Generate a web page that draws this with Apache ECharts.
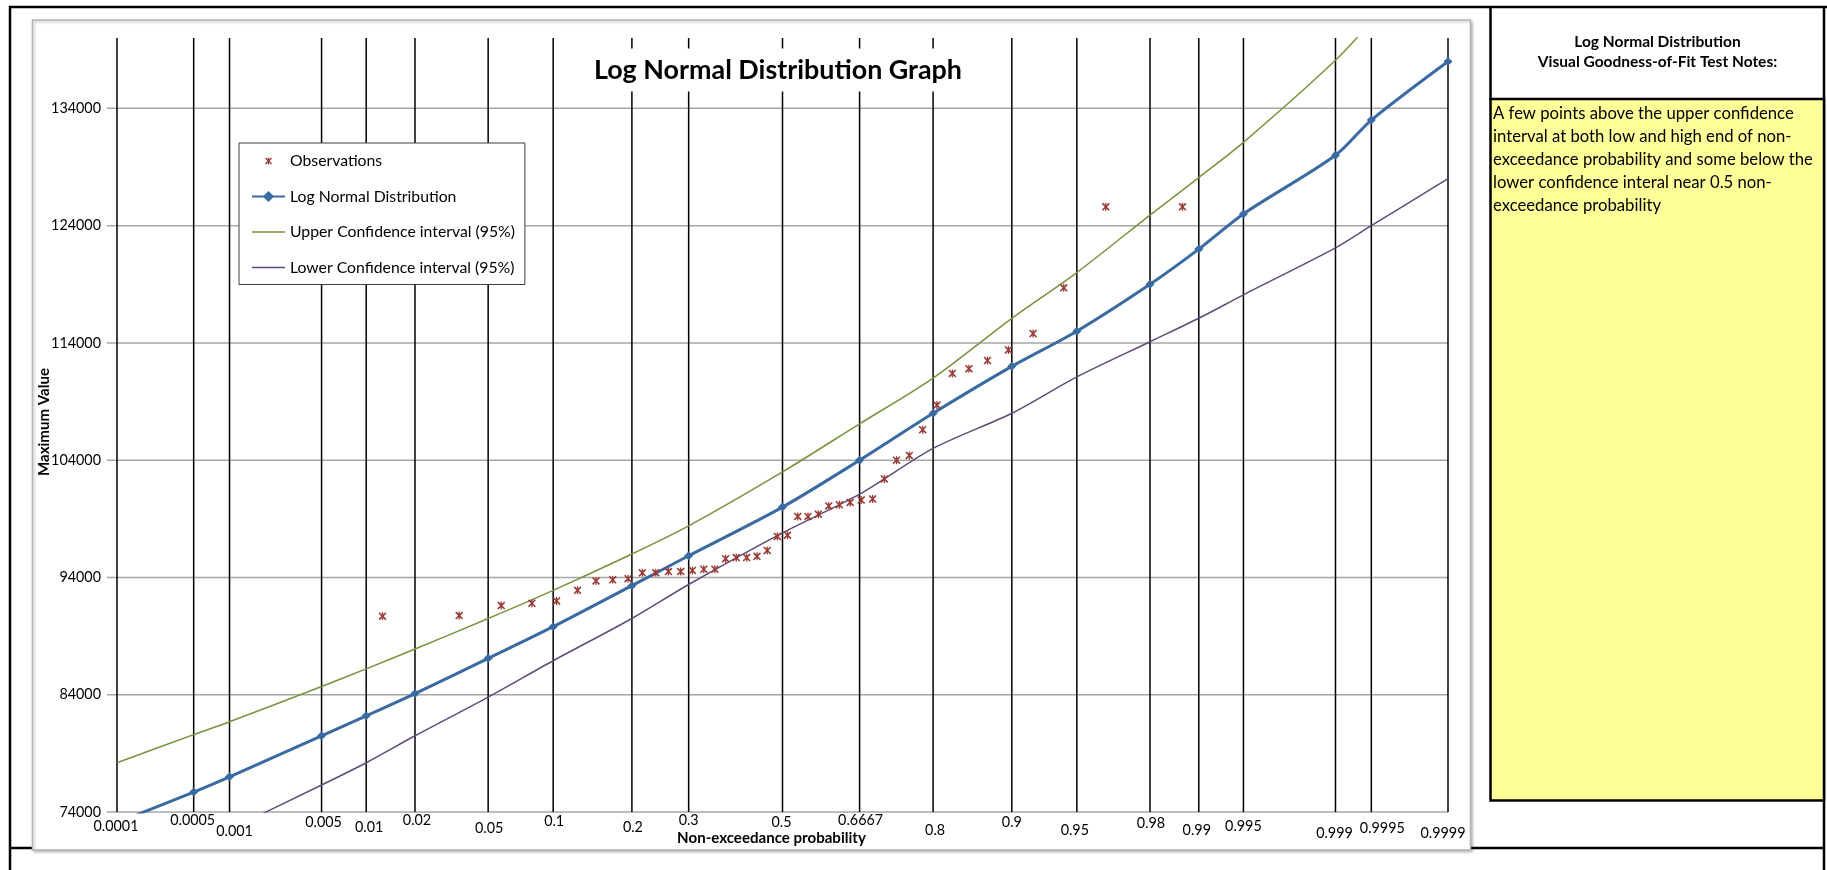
<!DOCTYPE html>
<html>
<head>
<meta charset="utf-8">
<title>Log Normal Distribution Graph</title>
<script src="https://cdn.jsdelivr.net/npm/echarts@6/dist/echarts.min.js"></script>
<style>
  html, body { margin: 0; padding: 0; background: #ffffff; }
  #chart { width: 1827px; height: 870px; }
</style>
</head>
<body>
<div id="chart"></div>
<script>
// ---- Data -----------------------------------------------------------------
// Non-exceedance probabilities of the vertical rules on the probability paper
const probTicks = [0.0001, 0.0005, 0.001, 0.005, 0.01, 0.02, 0.05, 0.1, 0.2, 0.3, 0.5,
  0.6667, 0.8, 0.9, 0.95, 0.98, 0.99, 0.995, 0.999, 0.9995, 0.9999];
const probLabels = ['0.0001', '0.0005', '0.001', '0.005', '0.01', '0.02', '0.05', '0.1', '0.2', '0.3', '0.5',
  '0.6667', '0.8', '0.9', '0.95', '0.98', '0.99', '0.995', '0.999', '0.9995', '0.9999'];

// Value axis ticks
const valueTicks = [74000, 84000, 94000, 104000, 114000, 124000, 134000];
const valueLabels = ['74000', '84000', '94000', '104000', '114000', '124000', '134000'];

// Fitted log-normal quantiles and 95% confidence limits at each probability rule
const fittedValues = [73100, 75700, 77000, 80500, 82200, 84100, 87100, 89800, 93300, 95850, 100000,
  104000, 108000, 112000, 115000, 119000, 122000, 125000, 130000, 133000, 138000];
const upperValues = [78200, 80600, 81700, 84700, 86200, 87900, 90500, 92900, 96000, 98400, 103000,
  107100, 111000, 116100, 120000, 124900, 128100, 131100, 138100, 141400, 149000];
const lowerValues = [67800, 71000, 72500, 76300, 78200, 80500, 83800, 86900, 90500, 93400, 97800,
  101100, 105000, 108000, 111100, 114100, 116100, 118100, 122100, 124000, 128000];

// Observed annual maxima (sorted) and their plotting positions
const obsProb = [0.0127, 0.0354, 0.0580, 0.0807, 0.1034, 0.1260, 0.1487, 0.1714, 0.1940, 0.2167,
  0.2394, 0.2620, 0.2847, 0.3073, 0.3300, 0.3527, 0.3753, 0.3980, 0.4207, 0.4433,
  0.4660, 0.4887, 0.5113, 0.5340, 0.5567, 0.5793, 0.6020, 0.6247, 0.6473, 0.6700,
  0.6927, 0.7153, 0.7380, 0.7607, 0.7833, 0.8060, 0.8287, 0.8513, 0.8740, 0.8966,
  0.9193, 0.9420, 0.9646, 0.9873];
const obsValues = [90700, 90750, 91600, 91800, 92000, 92900, 93700, 93800, 93900, 94400,
  94400, 94500, 94500, 94600, 94700, 94700, 95600, 95700, 95700, 95800,
  96300, 97500, 97600, 99200, 99200, 99400, 100100, 100200, 100400, 100600,
  100700, 102400, 104000, 104400, 106600, 108700, 111400, 111800, 112500, 113400,
  114800, 118700, 125600, 125600];

const notesTitle = ['Log Normal Distribution', 'Visual Goodness-of-Fit Test Notes:'];
const notesBody = [
  'A few points above the upper confidence',
  'interval at both low and high end of non-',
  'exceedance probability and some below the',
  'lower confidence interal near 0.5 non-',
  'exceedance probability'
];

// ---- Probability scale ------------------------------------------------------
// Inverse standard normal CDF (Acklam's rational approximation)
function normInv(p) {
  const a = [-3.969683028665376e+01, 2.209460984245205e+02, -2.759285104469687e+02,
    1.383577518672690e+02, -3.066479806614716e+01, 2.506628277459239e+00];
  const b = [-5.447609879822406e+01, 1.615858368580409e+02, -1.556989798598866e+02,
    6.680131188771972e+01, -1.328068155288572e+01];
  const c = [-7.784894002430293e-03, -3.223964580411365e-01, -2.400758277161838e+00,
    -2.549732539343734e+00, 4.374664141464968e+00, 2.938163982698783e+00];
  const d = [7.784695709041462e-03, 3.224671290700398e-01, 2.445134137142996e+00,
    3.754408661907416e+00];
  const pl = 0.02425, ph = 1 - pl;
  let q, r;
  if (p < pl) {
    q = Math.sqrt(-2 * Math.log(p));
    return (((((c[0] * q + c[1]) * q + c[2]) * q + c[3]) * q + c[4]) * q + c[5]) /
      ((((d[0] * q + d[1]) * q + d[2]) * q + d[3]) * q + 1);
  }
  if (p <= ph) {
    q = p - 0.5; r = q * q;
    return (((((a[0] * r + a[1]) * r + a[2]) * r + a[3]) * r + a[4]) * r + a[5]) * q /
      (((((b[0] * r + b[1]) * r + b[2]) * r + b[3]) * r + b[4]) * r + 1);
  }
  q = Math.sqrt(-2 * Math.log(1 - p));
  return -(((((c[0] * q + c[1]) * q + c[2]) * q + c[3]) * q + c[4]) * q + c[5]) /
    ((((d[0] * q + d[1]) * q + d[2]) * q + d[3]) * q + 1);
}

const zMin = normInv(probTicks[0]);
const zMax = normInv(probTicks[probTicks.length - 1]);
const yMin = 74000;
const yMax = 140000;

// ---- Typography ------------------------------------------------------------
const FAMILY = 'Lato, "Noto Sans", sans-serif';
const measureCtx = document.createElement('canvas').getContext('2d');
// font size (px) that makes the given text span the given width
function fitSize(text, width, weight) {
  measureCtx.font = (weight || 'normal') + ' 100px Lato';
  return +(100 * width / measureCtx.measureText(text).width).toFixed(2);
}
const tickSize = fitSize('0.0001', 45);
const axisTitleSize = fitSize('Non-exceedance probability', 189, 'bold');
const legendSize = fitSize('Upper Confidence interval (95%)', 225, 'normal');
const titleSize = fitSize('Log Normal Distribution Graph', 368, 'bold');
const notesTitleSize = 15.5;
const notesBodySize = fitSize(notesBody[0], 301, 'normal');

// staggered placement of the probability labels under the axis
const labelDx = [-1, -1, 5, 2, 3, 2, 1, 1, 1, 0, -1, 1, 2, 0, -2, 1, -2, 0, -1, 11, -5];
const labelDy = [14, 8, 19, 10, 15, 8, 16, 9, 15, 8, 10, 8, 18, 10, 18, 11, 18, 14, 21, 16, 21];

// "star" marker (x with a vertical bar), padded inside a 20x20 box
const starSymbol = 'path://M0,0M20,20' +
  'M5,6.4L6.4,5L15,13.6L13.6,15Z' +
  'M13.6,5L15,6.4L6.4,15L5,13.6Z' +
  'M9.2,5L10.8,5L10.8,15L9.2,15Z';
// plain stroke used as legend key for the confidence limits
const lineKey = 'path://M0,0L33,0L33,1.5L0,1.5Z';

const COLORS = {
  obs: '#993a35',
  fit: '#3a6aa2',
  upper: '#77933c',
  lower: '#604a7b',
  grid: '#a6a6a6'
};

const chart = echarts.init(document.getElementById('chart'), null, { renderer: 'canvas' });

const option = {
  animation: false,
  backgroundColor: '#ffffff',
  grid: { left: 117, top: 38, width: 1331, height: 774, outerBoundsMode: 'none' },
  xAxis: { type: 'value', min: zMin, max: zMax, show: false },
  yAxis: { type: 'value', min: yMin, max: yMax, show: false },
  legend: {
    orient: 'vertical',
    left: 239, top: 143,
    data: [
      { name: 'Observations' },
      { name: 'Log Normal Distribution' },
      { name: 'Upper Confidence interval (95%)', icon: lineKey },
      { name: 'Lower Confidence interval (95%)', icon: lineKey }
    ],
    itemWidth: 33, itemHeight: 14, itemGap: 19.5,
    padding: [10, 10, 9, 12],
    backgroundColor: '#ffffff',
    borderColor: '#3f3f3f', borderWidth: 1, borderRadius: 0,
    selectedMode: false,
    textStyle: { fontFamily: FAMILY, fontSize: legendSize, color: '#000' }
  },
  graphic: [
    // worksheet cell borders
    { type: 'line', z: -20, shape: { x1: 9, y1: 7, x2: 1827, y2: 7 }, style: { stroke: '#000', lineWidth: 2.5 } },
    { type: 'line', z: -20, shape: { x1: 10, y1: 6, x2: 10, y2: 870 }, style: { stroke: '#000', lineWidth: 2.5 } },
    { type: 'line', z: -20, shape: { x1: 1824, y1: 6, x2: 1824, y2: 870 }, style: { stroke: '#000', lineWidth: 2.5 } },
    { type: 'line', z: -20, shape: { x1: 10, y1: 848, x2: 1824, y2: 848 }, style: { stroke: '#000', lineWidth: 2.5 } },
    // chart area frame
    {
      type: 'rect', z: -10,
      shape: { x: 32.5, y: 20, width: 1438, height: 830 },
      style: {
        fill: '#ffffff', stroke: '#b4b4b4', lineWidth: 1.5,
        shadowBlur: 3, shadowOffsetX: 1.5, shadowOffsetY: 1.5, shadowColor: 'rgba(0,0,0,0.25)'
      }
    },
    // notes panel
    { type: 'line', z: -8, shape: { x1: 1490.5, y1: 6, x2: 1490.5, y2: 100 }, style: { stroke: '#000', lineWidth: 2.5 } },
    {
      type: 'rect', z: -8,
      shape: { x: 1490.5, y: 99, width: 333.5, height: 701.5 },
      style: { fill: '#ffff99', stroke: '#000', lineWidth: 2.5 }
    },
    {
      type: 'text', z: 6,
      style: {
        x: 1657.5, y: 42, align: 'center', verticalAlign: 'middle',
        text: notesTitle[0],
        fontFamily: FAMILY, fontWeight: 'bold', fontSize: notesTitleSize, fill: '#000'
      }
    },
    {
      type: 'text', z: 6,
      style: {
        x: 1657.5, y: 62, align: 'center', verticalAlign: 'middle',
        text: notesTitle[1],
        fontFamily: FAMILY, fontWeight: 'bold', fontSize: notesTitleSize, fill: '#000'
      }
    },
    {
      type: 'text', z: 6,
      style: {
        x: 1493, y: 102.5, align: 'left', verticalAlign: 'top',
        text: notesBody.join('\n'), lineHeight: 23,
        fontFamily: FAMILY, fontSize: notesBodySize, fill: '#000'
      }
    },
    // chart title on a white plate
    {
      type: 'text', z: 20,
      style: {
        x: 778, y: 70, align: 'center', verticalAlign: 'middle',
        text: 'Log Normal Distribution Graph',
        fontFamily: FAMILY, fontWeight: 'bold', fontSize: titleSize, fill: '#000',
        backgroundColor: '#ffffff', padding: [8, 14, 8, 14]
      }
    },
    // axis titles
    {
      type: 'text', z: 5,
      style: {
        x: 771.5, y: 838.5, align: 'center', verticalAlign: 'middle',
        text: 'Non-exceedance probability',
        fontFamily: FAMILY, fontWeight: 'bold', fontSize: axisTitleSize, fill: '#000'
      }
    },
    {
      type: 'text', z: 5, x: 44, y: 422, rotation: Math.PI / 2,
      style: {
        x: 0, y: 0, align: 'center', verticalAlign: 'middle',
        text: 'Maximum Value',
        fontFamily: FAMILY, fontWeight: 'bold', fontSize: axisTitleSize, fill: '#000'
      }
    }
  ],
  series: [
    // horizontal value grid with its labels
    {
      type: 'custom', name: 'valueGrid', silent: true, z: 1,
      data: valueTicks.map(v => [zMin, v]),
      renderItem(params, api) {
        const v = api.value(1);
        const a = api.coord([zMin, v]);
        const b = api.coord([zMax, v]);
        return {
          type: 'group',
          children: [
            { type: 'line', shape: { x1: a[0] - 10, y1: a[1], x2: b[0], y2: b[1] },
              style: { stroke: COLORS.grid, lineWidth: 1.5 } },
            { type: 'text', style: {
                text: valueLabels[params.dataIndex], x: a[0] - 16, y: a[1],
                align: 'right', verticalAlign: 'middle',
                fontFamily: FAMILY, fontSize: tickSize, fill: '#000' } }
          ]
        };
      }
    },
    // vertical probability rules with their labels
    {
      type: 'custom', name: 'probGrid', silent: true, z: 1,
      data: probTicks.map(p => [normInv(p), yMin]),
      renderItem(params, api) {
        const z = api.value(0);
        const i = params.dataIndex;
        const top = api.coord([z, yMax]);
        const bot = api.coord([z, yMin]);
        return {
          type: 'group',
          children: [
            { type: 'line', shape: { x1: top[0], y1: top[1], x2: bot[0], y2: bot[1] },
              style: { stroke: '#000', lineWidth: 1.5 } },
            { type: 'text', style: {
                text: probLabels[i], x: bot[0] + labelDx[i], y: bot[1] + labelDy[i],
                align: 'center', verticalAlign: 'middle',
                fontFamily: FAMILY, fontSize: tickSize, fill: '#000' } }
          ]
        };
      }
    },
    {
      type: 'line', name: 'Upper Confidence interval (95%)', z: 2,
      data: probTicks.map((p, i) => [normInv(p), upperValues[i]]),
      symbol: 'none', smooth: 0.3, clip: true,
      lineStyle: { color: COLORS.upper, width: 1.5 },
      itemStyle: { color: COLORS.upper }
    },
    {
      type: 'line', name: 'Lower Confidence interval (95%)', z: 2,
      data: probTicks.map((p, i) => [normInv(p), lowerValues[i]]),
      symbol: 'none', smooth: 0.3, clip: true,
      lineStyle: { color: COLORS.lower, width: 1.5 },
      itemStyle: { color: COLORS.lower }
    },
    {
      type: 'line', name: 'Log Normal Distribution', z: 3,
      data: probTicks.map((p, i) => [normInv(p), fittedValues[i]]),
      symbol: 'diamond', symbolSize: 9, showAllSymbol: true,
      smooth: 0.3, clip: true,
      lineStyle: { color: COLORS.fit, width: 3 },
      itemStyle: { color: COLORS.fit }
    },
    {
      type: 'scatter', name: 'Observations', z: 4,
      data: obsProb.map((p, i) => [normInv(p), obsValues[i]]),
      symbol: starSymbol, symbolSize: 16,
      itemStyle: { color: COLORS.obs, opacity: 1 }
    }
  ]
};

chart.setOption(option);
</script>
</body>
</html>
